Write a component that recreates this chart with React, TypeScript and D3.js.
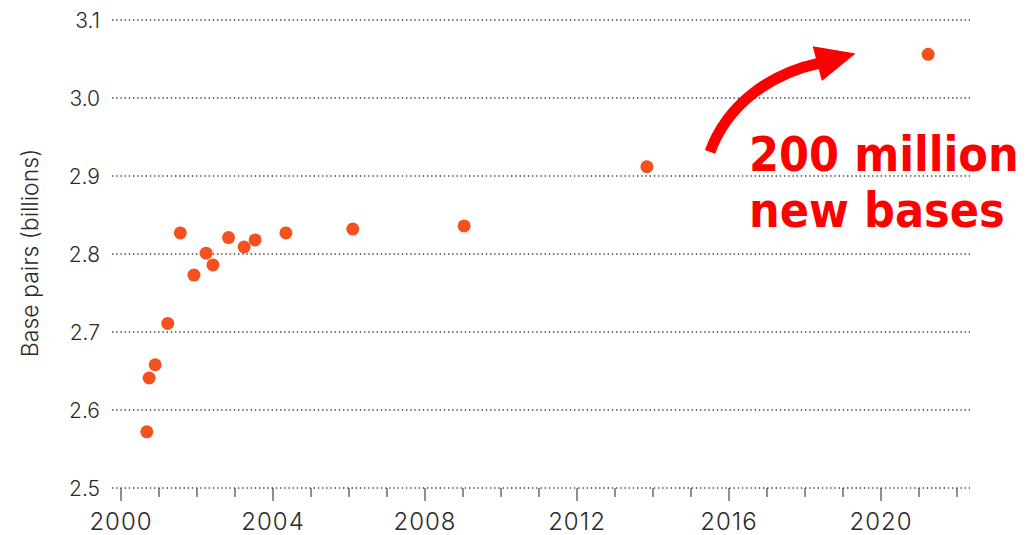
import React, { useEffect, useRef } from 'react';
import * as d3 from 'd3';

// assembly release dates (decimal year) and total base pairs (billions)
const years = [
  2000.68, 2000.74, 2000.9, 2001.23, 2001.56, 2001.92, 2002.24, 2002.42,
  2002.83, 2003.24, 2003.53, 2004.34, 2006.1, 2009.03, 2013.84, 2021.24
];
const basePairs = [
  2.572, 2.641, 2.658, 2.711, 2.827, 2.773, 2.801, 2.786,
  2.821, 2.809, 2.818, 2.827, 2.832, 2.836, 2.912, 3.056
];
const yTicks = [2.5, 2.6, 2.7, 2.8, 2.9, 3.0, 3.1];
const xTickYears = d3.range(2000, 2023);
const xLabelYears = [2000, 2004, 2008, 2012, 2016, 2020];
const annotationLines = ['200 million', 'new bases'];

const App = () => {
  const svgRef = useRef<SVGSVGElement>(null);

  useEffect(() => {
    if (!svgRef.current) return;
    const svg = d3.select(svgRef.current);
    svg.selectAll('*').remove();

    const width = 1029;
    const height = 535;
    const font = "Inter, 'DejaVu Sans', sans-serif";

    svg.attr('width', width).attr('height', height);

    const x = d3.scaleLinear().domain([2000, 2020]).range([121, 881]);
    const y = d3.scaleLinear().domain([2.5, 3.1]).range([488, 20]);

    const gridLeft = 112;
    const gridRight = 970;

    // dotted gridlines
    svg.append('g')
      .selectAll('line')
      .data(yTicks)
      .enter()
      .append('line')
      .attr('x1', gridLeft)
      .attr('x2', gridRight)
      .attr('y1', d => y(d))
      .attr('y2', d => y(d))
      .attr('stroke', '#444')
      .attr('stroke-width', 1.4)
      .attr('stroke-dasharray', '1.4 2.8');

    // y labels
    svg.append('g')
      .selectAll('text')
      .data(yTicks)
      .enter()
      .append('text')
      .attr('x', 100)
      .attr('y', d => y(d))
      .attr('dy', '0.36em')
      .attr('text-anchor', 'end')
      .attr('font-family', font)
      .attr('font-weight', 300)
      .attr('font-size', '21px')
      .attr('fill', '#2a2a2a')
      .text(d => d.toFixed(1));

    // x ticks (yearly, longer every 4 years)
    svg.append('g')
      .selectAll('line')
      .data(xTickYears)
      .enter()
      .append('line')
      .attr('x1', d => x(d))
      .attr('x2', d => x(d))
      .attr('y1', y(2.5))
      .attr('y2', d => y(2.5) + ((d - 2000) % 4 === 0 ? 13 : 9))
      .attr('stroke', '#444')
      .attr('stroke-width', 1.2);

    // x labels
    svg.append('g')
      .selectAll('text')
      .data(xLabelYears)
      .enter()
      .append('text')
      .attr('x', d => x(d))
      .attr('y', 530)
      .attr('text-anchor', 'middle')
      .attr('font-family', font)
      .attr('font-weight', 300)
      .attr('font-size', '24px')
      .attr('letter-spacing', '1px')
      .attr('fill', '#2a2a2a')
      .text(d => d);

    // y axis title
    svg.append('text')
      .attr('transform', `translate(38, 253) rotate(-90)`)
      .attr('text-anchor', 'middle')
      .attr('font-family', font)
      .attr('font-weight', 300)
      .attr('font-size', '23px')
      .attr('fill', '#2a2a2a')
      .text('Base pairs (billions)');

    // points
    svg.append('g')
      .selectAll('circle')
      .data(years.map((yr, i) => ({ yr, bp: basePairs[i] })))
      .enter()
      .append('circle')
      .attr('cx', d => x(d.yr))
      .attr('cy', d => y(d.bp))
      .attr('r', 6.5)
      .attr('fill', '#f4511e');

    // annotation arrow, anchored in data space
    const tail: [number, number] = [x(2015.5), y(2.931)];
    const c1: [number, number] = [x(2015.95), y(2.99)];
    const c2: [number, number] = [x(2017.0), y(3.03)];
    const end: [number, number] = [x(2018.4), y(3.045)];
    const tip: [number, number] = [x(2019.33), y(3.057)];

    const p = d3.path();
    p.moveTo(tail[0], tail[1]);
    p.bezierCurveTo(c1[0], c1[1], c2[0], c2[1], end[0], end[1]);
    svg.append('path')
      .attr('d', p.toString())
      .attr('fill', 'none')
      .attr('stroke', '#ff0000')
      .attr('stroke-width', 11);

    const dx = tip[0] - end[0];
    const dy = tip[1] - end[1];
    const len = Math.hypot(dx, dy);
    const nx = -dy / len;
    const ny = dx / len;
    const half = 18;
    const base: [number, number] = [end[0] - (dx / len) * 3, end[1] - (dy / len) * 3];
    svg.append('path')
      .attr('d', `M${tip[0]},${tip[1]}L${base[0] + nx * half},${base[1] + ny * half}L${base[0] - nx * half},${base[1] - ny * half}Z`)
      .attr('fill', '#ff0000');

    // annotation text
    svg.append('g')
      .selectAll('text')
      .data(annotationLines)
      .enter()
      .append('text')
      .attr('x', 749)
      .attr('y', (d, i) => 171 + i * 56)
      .attr('font-family', "'DejaVu Sans Condensed', 'DejaVu Sans', sans-serif")
      .attr('font-stretch', 'condensed')
      .attr('font-weight', 'bold')
      .attr('font-size', '48px')
      .attr('fill', '#ff0000')
      .text(d => d);
  }, []);

  return (
    <div style={{ position: 'absolute', left: 0, top: 0 }}>
      <svg ref={svgRef} style={{ display: 'block' }}></svg>
    </div>
  );
};

export default App;
